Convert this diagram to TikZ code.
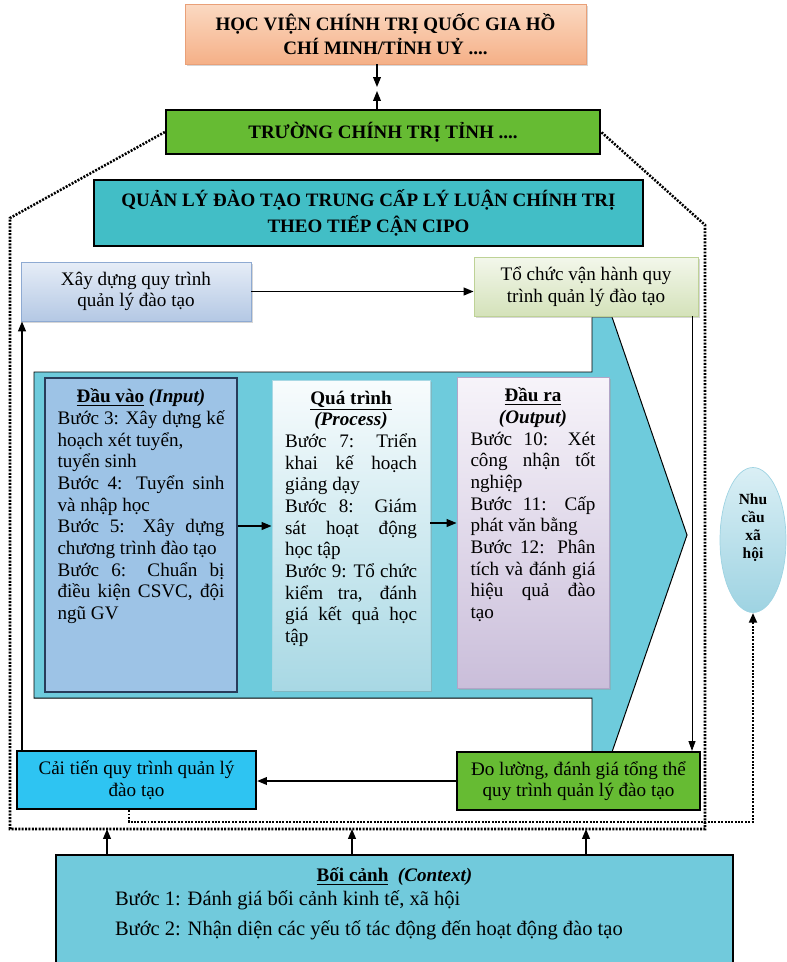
\documentclass[tikz,border=0pt]{standalone}
\usepackage{fontspec}
\setmainfont{Liberation Serif}
\usepackage{tikz}
\usetikzlibrary{arrows.meta, shapes.geometric, shadows}
\usepackage{xcolor}
\definecolor{hvtop}{RGB}{251,217,194}
\definecolor{hvbot}{RGB}{245,176,135}
\definecolor{hvline}{RGB}{233,160,120}
\definecolor{greenbox}{RGB}{102,187,51}
\definecolor{tealbox}{RGB}{66,190,198}
\definecolor{xdtop}{RGB}{230,237,247}
\definecolor{xdbot}{RGB}{180,200,228}
\definecolor{xdline}{RGB}{142,170,210}
\definecolor{tctop}{RGB}{243,247,235}
\definecolor{tcbot}{RGB}{212,226,186}
\definecolor{tcline}{RGB}{190,210,150}
\definecolor{arrowfill}{RGB}{110,203,220}
\definecolor{inputfill}{RGB}{157,195,230}
\definecolor{inputline}{RGB}{40,60,90}
\definecolor{proctop}{RGB}{248,252,253}
\definecolor{procbot}{RGB}{168,216,228}
\definecolor{outtop}{RGB}{247,244,250}
\definecolor{outbot}{RGB}{202,190,218}
\definecolor{outborder}{RGB}{178,165,200}
\definecolor{cyanbox}{RGB}{46,196,242}
\definecolor{ctxfill}{RGB}{113,202,220}
\definecolor{ellipsetop}{RGB}{218,239,245}
\definecolor{ellipsebot}{RGB}{158,211,226}
\newcommand{\bodysize}{\fontsize{13.6}{15.4}\selectfont}
\newdimen\pxu
\pxu=0.025cm

\begin{document}
\begin{tikzpicture}[x=0.025cm, y=-0.025cm,
    titlebox/.style={draw=black, line width=1.6pt, align=center, inner sep=0pt, font=\bfseries\fontsize{13.5}{17}\selectfont},
    flowbox/.style={draw=black, line width=1.6pt, align=center, inner sep=0pt, font=\bodysize},
    softbox/.style={draw, line width=0.6pt, align=center, inner sep=0pt, font=\bodysize},
    stepbox/.style={inner ysep=11\pxu, font=\bodysize},
    softshadow/.style={drop shadow={shadow xshift=1.5pt, shadow yshift=-1.5pt, fill=black!40, opacity=0.4}},
    arr/.style={-{Triangle[length=7pt,width=5.5pt]}, line width=1.1pt},
    dotline/.style={line width=1.8pt, dash pattern=on 1.4pt off 1pt}]
    \useasboundingbox (0,0) rectangle (787,962);

    \draw[fill=arrowfill, line width=0.7pt] (34,372) -- (592,372) -- (592,317) -- (612,317) -- (687,535) -- (612,752) -- (592,752) -- (592,698) -- (34,698) -- cycle;

    \node[titlebox, draw=hvline, line width=0.6pt, top color=hvtop, bottom color=hvbot, softshadow, minimum width=401\pxu, minimum height=60\pxu] (hocvien) at (385.5,34) {HỌC VIỆN CHÍNH TRỊ QUỐC GIA HỒ\\CHÍ MINH/TỈNH UỶ ....};
    \node[titlebox, fill=greenbox, minimum width=434\pxu, minimum height=44\pxu] (truong) at (383,132) {TRƯỜNG CHÍNH TRỊ TỈNH ....};
    \node[titlebox, fill=tealbox, minimum width=549\pxu, minimum height=66\pxu, font=\bfseries\fontsize{13.5}{18.5}\selectfont] (quanly) at (368.5,213) {QUẢN LÝ ĐÀO TẠO TRUNG CẤP LÝ LUẬN CHÍNH TRỊ\\THEO TIẾP CẬN CIPO};

    \node[softbox, draw=xdline, top color=xdtop, bottom color=xdbot, softshadow, minimum width=230\pxu, minimum height=59\pxu] (xaydung) at (136,291.5) {Xây dựng quy trình\\quản lý đào tạo};
    \node[softbox, draw=tcline, top color=tctop, bottom color=tcbot, softshadow, minimum width=224\pxu, minimum height=59\pxu] (tochuc) at (586,286.5) {Tổ chức vận hành quy\\trình quản lý đào tạo};

    \node[stepbox, draw=inputline, line width=1pt, fill=inputfill, inner xsep=12.5\pxu] (dauvao) at (141,535) {\parbox[t][292\pxu][t]{167\pxu}{\sloppy
        {\centering\textbf{\underline{Đầu vào} \textit{(Input)}}\par}
        Bước 3: Xây dựng kế\linebreak hoạch xét tuyển,\newline tuyển sinh\par
        Bước 4: Tuyển sinh\linebreak và nhập học\par
        Bước 5: Xây dựng\linebreak chương trình đào tạo\par
        Bước 6: Chuẩn bị\linebreak điều kiện CSVC, đội\linebreak ngũ GV}};
    \node[stepbox, draw=procbot, line width=0.6pt, top color=proctop, bottom color=procbot, softshadow, inner xsep=13\pxu] (quatrinh) at (351,535) {\parbox[t][288\pxu][t]{132\pxu}{\sloppy
        {\centering\textbf{\underline{Quá trình}}\par\textbf{\textit{(Process)}}\par}
        Bước 7: Triển\linebreak khai kế hoạch\linebreak giảng dạy\par
        Bước 8: Giám\linebreak sát hoạt động\linebreak học tập\par
        Bước 9: Tổ chức\linebreak kiểm tra, đánh\linebreak giá kết quả học\linebreak tập}};
    \node[stepbox, draw=outborder, line width=0.6pt, top color=outtop, bottom color=outbot, softshadow, inner xsep=13.5\pxu] (daura) at (533,532.5) {\parbox[t][289\pxu][t]{125\pxu}{\sloppy
        {\centering\textbf{\underline{Đầu ra}}\par\textbf{\textit{(Output)}}\par}
        Bước 10: Xét\linebreak công nhận tốt\linebreak nghiệp\par
        Bước 11: Cấp\linebreak phát văn bằng\par
        Bước 12: Phân\linebreak tích và đánh giá\linebreak hiệu quả đào\linebreak tạo}};

    \node[flowbox, fill=cyanbox, minimum width=239\pxu, minimum height=58\pxu] (caitien) at (136.5,780) {Cải tiến quy trình quản lý\\đào tạo};
    \node[flowbox, fill=greenbox, minimum width=243\pxu, minimum height=58\pxu] (doluong) at (578.5,781) {Đo lường, đánh giá tổng thể\\quy trình quản lý đào tạo};

    \node[ellipse, draw=ellipsebot, line width=0.5pt, top color=ellipsetop, bottom color=ellipsebot, minimum width=66\pxu, minimum height=145\pxu, inner sep=0pt, font=\bfseries\fontsize{11}{12.8}\selectfont] (nhucau) at (753,540) {\raisebox{8.5pt}[\height][\depth]{\begin{tabular}{@{}c@{}}Nhu\\cầu\\xã\\hội\end{tabular}}};

    \node[flowbox, fill=ctxfill, minimum width=677\pxu, minimum height=114\pxu, inner xsep=59\pxu, inner ysep=13\pxu] (boicanh) at (394.5,912) {\parbox[t][88\pxu][t]{559\pxu}{\fontsize{14.6}{17}\selectfont
        {\centering\fontsize{13.6}{17}\selectfont\textbf{\underline{Bối cảnh}}~~\textbf{\textit{(Context)}}\par}
        Bước 1: Đánh giá bối cảnh kinh tế, xã hội\par
        \vspace{4pt}
        Bước 2: Nhận diện các yếu tố tác động đến hoạt động đào tạo}};

    \coordinate (hv1) at (377,87);
    \coordinate (hv2) at (377,91);
    \draw[arr, line width=0.8pt] (hocvien.south -| hv1) -- (hv1);
    \draw[arr, line width=0.8pt] (truong.north -| hv2) -- (hv2);

    \draw[arr] (xaydung.east) -- (xaydung.east -| tochuc.west);
    \draw[arr] (dauvao.east |- 0,526) -- (quatrinh.west |- 0,526);
    \draw[arr] (quatrinh.east |- 0,523) -- (daura.west |- 0,523);
    \draw[-{Triangle[length=7pt,width=5pt]}, line width=0.6pt] (692,0 |- tochuc.south) -- (692,0 |- doluong.north);
    \draw[arr] (doluong.west) -- (doluong.west -| caitien.east);
    \draw[arr] (22,0 |- caitien.north) -- (22,0 |- xaydung.south);

    \draw[dotline] (truong.west) -- (10,218) -- (10,829) -- (705,829) -- (705,225) -- (truong.east);
    \draw[dotline, -{Triangle[length=7pt,width=5.5pt]}] (129,0 |- caitien.south) -- (129,822) -- (nhucau.south |- 0,822) -- (nhucau.south);
    \foreach \x in {107,352,586}
        \draw[arr] (\x,0 |- boicanh.north) -- (\x,829);
\end{tikzpicture}
\end{document}
